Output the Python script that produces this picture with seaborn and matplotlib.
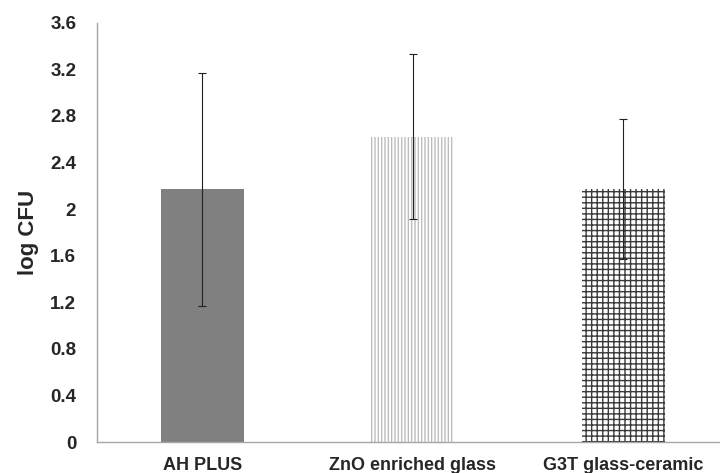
import pandas as pd
import matplotlib
matplotlib.use("Agg")
import matplotlib.pyplot as plt
import seaborn as sns

# values
groups = ["AH PLUS", "ZnO enriched glass", "G3T glass-ceramic"]
log_cfu = [2.17, 2.62, 2.17]
sd = [1.0, 0.71, 0.6]
y_ticks = [0, 0.4, 0.8, 1.2, 1.6, 2, 2.4, 2.8, 3.2, 3.6]
y_tick_labels = ["0", "0.4", "0.8", "1.2", "1.6", "2", "2.4", "2.8", "3.2", "3.6"]

df = pd.DataFrame({"group": groups, "log_cfu": log_cfu, "sd": sd})

sns.set_style("white")
plt.rcParams["font.family"] = ["Liberation Sans", "DejaVu Sans"]
plt.rcParams["hatch.linewidth"] = 1.0

fig = plt.figure(figsize=(7.2, 4.73), dpi=100)
ax = fig.add_axes([97 / 720, 31 / 473, 631.5 / 720, 419.4 / 473])

sns.barplot(data=df, x="group", y="log_cfu", hue="group",
            palette=["#808080", "white", "white"], width=0.394,
            errorbar=None, legend=False, ax=ax, linewidth=0, saturation=1)

# Excel-style fills: solid, vertical lines, grid
hatches = [None, "|||||", "+++"]
hatch_cols = ["#808080", "#bdbdbd", "#3a3a3a"]
for bar, h, c in zip(ax.patches, hatches, hatch_cols):
    if h:
        bar.set_hatch(h)
        bar.set_edgecolor(c)
        bar.set_linewidth(0)

ax.errorbar(x=range(len(groups)), y=df["log_cfu"], yerr=df["sd"],
            fmt="none", ecolor="#222222", elinewidth=0.8, capsize=3,
            capthick=0.8)

ax.set_xlim(-0.5, 2.5)
ax.set_ylim(0, 3.6)
ax.set_yticks(y_ticks)
ax.set_yticklabels(y_tick_labels)
ax.tick_params(axis="y", length=0, pad=15, labelsize=13.5)
ax.tick_params(axis="x", length=0, pad=11, labelsize=13)
for lab in ax.get_xticklabels() + ax.get_yticklabels():
    lab.set_fontweight("bold")

ax.set_xlabel("")
ax.set_ylabel("log CFU", fontsize=16, fontweight="bold", labelpad=8)

for s in ["top", "right"]:
    ax.spines[s].set_visible(False)
for s in ["left", "bottom"]:
    ax.spines[s].set_color("#a6a6a6")
    ax.spines[s].set_linewidth(1.0)

fig.savefig("out.png", dpi=100)
